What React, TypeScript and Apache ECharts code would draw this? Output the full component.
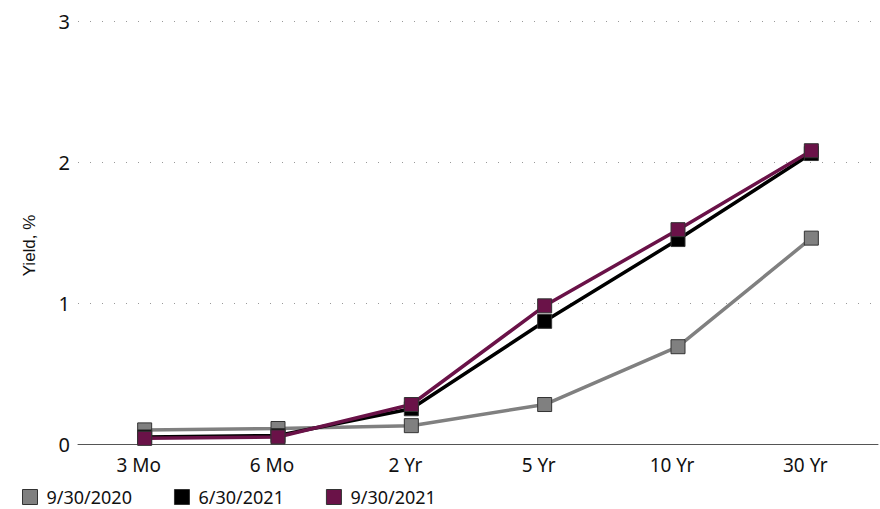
import React, { useEffect, useRef } from "react";
import * as echarts from "echarts";

const categories = ["3 Mo", "6 Mo", "2 Yr", "5 Yr", "10 Yr", "30 Yr"];
const seriesNames = ["9/30/2020", "6/30/2021", "9/30/2021"];
const yields2020Sep = [0.1, 0.11, 0.13, 0.28, 0.69, 1.46];
const yields2021Jun = [0.05, 0.06, 0.25, 0.87, 1.45, 2.06];
const yields2021Sep = [0.04, 0.05, 0.28, 0.98, 1.52, 2.08];
const colors = ["#808080", "#000000", "#6a1248"];

const FONT = "Noto Sans";

export default function App() {
  const ref = useRef<HTMLDivElement>(null);
  useEffect(() => {
    document.body.style.margin = "0";
    if (!ref.current) return;
    const chart = echarts.init(ref.current, null, { renderer: "svg" });
    const data = [yields2020Sep, yields2021Jun, yields2021Sep];
    chart.setOption({
      animation: false,
      textStyle: { fontFamily: FONT },
      grid: { left: 78, right: 2, top: 21, bottom: 65 },
      legend: {
        left: 22,
        top: 488,
        padding: 0,
        icon: "rect",
        itemWidth: 15,
        itemHeight: 15,
        itemGap: 42,
        itemStyle: { borderColor: "#333", borderWidth: 1 },
        textStyle: {
          fontFamily: FONT,
          fontSize: 18,
          lineHeight: 15,
          color: "#111",
          padding: [0, 0, 0, 4],
        },
        data: seriesNames,
      },
      xAxis: {
        type: "category",
        data: categories,
        boundaryGap: true,
        axisLine: { show: true, lineStyle: { color: "#555", width: 1 } },
        axisTick: { show: false },
        axisLabel: {
          fontFamily: FONT,
          fontSize: 19,
          color: "#111",
          margin: 11,
          padding: [0, 12, 0, 0],
        },
      },
      yAxis: {
        type: "value",
        min: 0,
        max: 3,
        interval: 1,
        name: "Yield, %",
        nameLocation: "middle",
        nameGap: 40,
        nameTextStyle: {
          fontFamily: "Liberation Sans",
          fontSize: 17,
          color: "#111",
          padding: [0, 26, 0, 0],
        },
        axisLine: { show: false },
        axisTick: { show: false },
        axisLabel: { fontFamily: FONT, fontSize: 20, color: "#111", margin: 8 },
        splitLine: {
          show: true,
          lineStyle: { color: "#999", width: 1, type: [1, 11] },
        },
      },
      series: seriesNames.map((name, i) => ({
        name,
        type: "line",
        data: data[i],
        symbol: "rect",
        symbolSize: 14,
        z: 2 + i,
        lineStyle: { color: colors[i], width: 3.5 },
        itemStyle: { color: colors[i], borderColor: "#333", borderWidth: 1 },
        emphasis: { disabled: true },
      })),
    });
    return () => chart.dispose();
  }, []);
  return <div ref={ref} style={{ width: 880, height: 509 }} />;
}
